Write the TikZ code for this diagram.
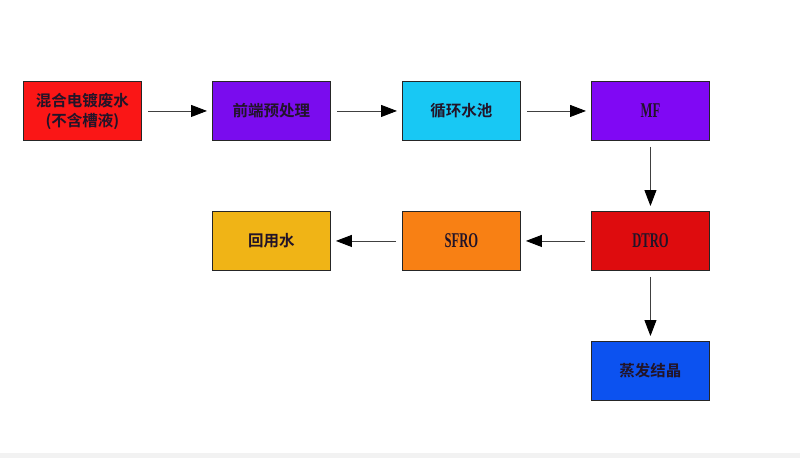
\documentclass[tikz,border=0pt]{standalone}
\usepackage{fontspec}
\usepackage{graphicx}
\setmainfont{Liberation Serif}
\newfontfamily\cjk{Noto Sans CJK SC}[BoldFont={* Bold}]
\usetikzlibrary{arrows.meta}
\definecolor{cRed}{RGB}{250,22,22}
\definecolor{cPurpleA}{RGB}{122,12,238}
\definecolor{cCyan}{RGB}{24,200,244}
\definecolor{cPurpleB}{RGB}{128,8,244}
\definecolor{cDtro}{RGB}{222,12,14}
\definecolor{cOrange}{RGB}{248,128,20}
\definecolor{cGold}{RGB}{240,180,22}
\definecolor{cBlue}{RGB}{12,82,240}
\definecolor{cText}{RGB}{34,20,40}
\newcommand{\latinlabel}[1]{{\rmfamily\bfseries\fontsize{21}{24}\selectfont\scalebox{0.6}[1]{#1}}}
\tikzset{
  procbox/.style={draw=black!85, line width=0.9pt, minimum width=118pt, minimum height=59pt,
    inner sep=0pt, anchor=north west, text=cText, align=center,
    font=\cjk\bfseries\fontsize{15.5}{20}\selectfont},
  flow/.style={draw=black!75, line width=0.9pt, -{Triangle[length=16pt,width=12pt,color=black,fill=black]}, shorten <=6pt, shorten >=5pt},
}
\begin{document}
\begin{tikzpicture}[x=1pt,y=-1pt]
\useasboundingbox (0,0) rectangle (800,458);
\fill[white] (0,0) rectangle (800,458);
\fill[black!5] (0,453) rectangle (800,458);
\node[procbox, fill=cRed] (a) at (23,81) {混合电镀废水\\(不含槽液)};
\node[procbox, fill=cPurpleA] (b) at (212,81) {前端预处理};
\node[procbox, fill=cCyan] (c) at (402,81) {循环水池};
\node[procbox, fill=cPurpleB] (d) at (591,81) {\latinlabel{MF}};
\node[procbox, fill=cDtro] (e) at (591,211) {\latinlabel{DTRO}};
\node[procbox, fill=cOrange] (f) at (402,211) {\latinlabel{SFRO}};
\node[procbox, fill=cGold] (g) at (212,211) {回用水};
\node[procbox, fill=cBlue] (h) at (591,341) {蒸发结晶};
\draw[flow] (a) -- (b);
\draw[flow] (b) -- (c);
\draw[flow] (c) -- (d);
\draw[flow] (d) -- (e);
\draw[flow] (e) -- (f);
\draw[flow] (f) -- (g);
\draw[flow] (e) -- (h);
\end{tikzpicture}
\end{document}
